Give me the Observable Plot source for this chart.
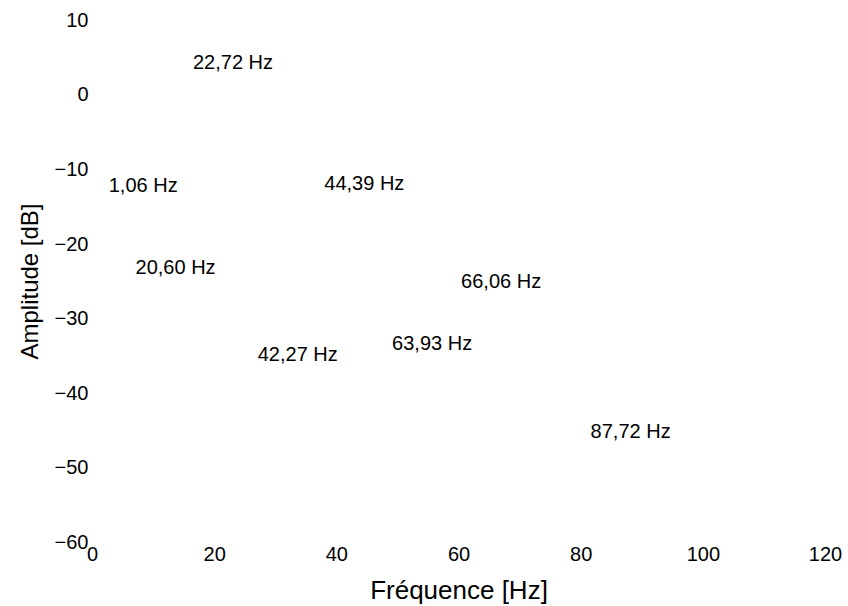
<!DOCTYPE html>
<html>
<head>
<meta charset="utf-8">
<script src="https://cdn.jsdelivr.net/npm/d3@7"></script>
<script src="https://cdn.jsdelivr.net/npm/@observablehq/plot@0.6"></script>
<style>
  html, body { margin: 0; padding: 0; background: #fff; }
  #chart svg { display: block; }
  #chart g[aria-label="x-axis label"] { font-size: 26px; }
  #chart g[aria-label="y-axis label"] { font-size: 24px; }
</style>
</head>
<body>
<div id="chart"></div>
<script>
const peakLabels = ["1,06 Hz", "20,60 Hz", "22,72 Hz", "42,27 Hz", "44,39 Hz", "63,93 Hz", "66,06 Hz", "87,72 Hz"];
const peakX = [8.3, 13.6, 23.0, 33.6, 44.5, 55.6, 66.9, 88.1];
const peakY = [-12.1, -23.1, 4.3, -34.8, -11.9, -33.3, -25.0, -45.1];
const xTicks = [0, 20, 40, 60, 80, 100, 120];
const yTicks = [-60, -50, -40, -30, -20, -10, 0, 10];
const xLabel = "Fréquence [Hz]";
const yLabel = "Amplitude [dB]";

const data = peakLabels.map((t, i) => ({label: t, x: peakX[i], y: peakY[i]}));

const chart = Plot.plot({
  width: 848,
  height: 606,
  marginLeft: 92,
  marginRight: 23,
  marginTop: 20,
  marginBottom: 64,
  style: {fontFamily: "'Liberation Sans', Arial, sans-serif", fontSize: "20px", color: "#000", background: "#fff"},
  x: {domain: [0, 120]},
  y: {domain: [-60, 10]},
  marks: [
    Plot.axisX({ticks: xTicks, tickSize: 0, tickPadding: 4, label: xLabel, labelAnchor: "center", labelArrow: "none", labelOffset: 56, fill: "#000"}),
    Plot.axisY({ticks: yTicks, tickSize: 0, tickPadding: 4, label: yLabel, labelAnchor: "center", labelArrow: "none", labelOffset: 72, fill: "#000"}),
    Plot.text(data, {x: "x", y: "y", text: "label", fontSize: 20, fill: "#000"})
  ]
});
document.getElementById("chart").appendChild(chart);
</script>
</body>
</html>
